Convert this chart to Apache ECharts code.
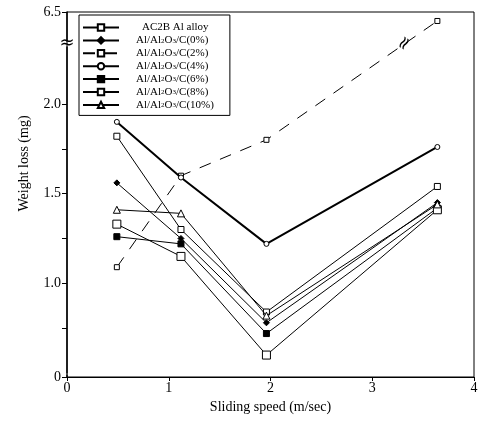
<!DOCTYPE html>
<html><head><meta charset="utf-8">
<script src="https://cdn.jsdelivr.net/npm/echarts@6/dist/echarts.min.js"></script>
<style>html,body{margin:0;padding:0;background:#fff}#c{width:484px;height:428px}</style>
</head><body><div id="c"></div>
<script>
const speeds = [0.49, 1.12, 1.96, 3.64];
const seriesNames = ['AC2B Al alloy','Al/Al2O3/C(0%)','Al/Al2O3/C(2%)','Al/Al2O3/C(4%)','Al/Al2O3/C(6%)','Al/Al2O3/C(8%)','Al/Al2O3/C(10%)'];
const ac2b = [1.82, 1.30, 0.84, 1.54];
const c0 = [1.56, 1.25, 0.78, 1.45];
const c2 = [1.09, 1.60, 1.80, 6.45];
const c4 = [1.90, 1.59, 1.22, 1.76];
const c6 = [1.26, 1.22, 0.72, 1.42];
const c8 = [1.33, 1.15, 0.60, 1.41];
const c10 = [1.41, 1.39, 0.82, 1.44];
const xTicks = [0, 1, 2, 3, 4];
const yLabels = [0, 1.0, 1.5, 2.0, 6.5];
const yMinorTicks = [0.75, 1.25, 1.75];

const FONT = 'Liberation Serif';
const pairs = arr => arr.map((v, i) => [speeds[i], v]);
const styles = [
  {symbol: 'rect', size: 6, fill: '#fff', width: 1, type: 'solid'},
  {symbol: 'diamond', size: 6, fill: '#000', width: 1, type: 'solid'},
  {symbol: 'rect', size: 5, fill: '#fff', width: 1, type: [12, 10]},
  {symbol: 'circle', size: 5, fill: '#fff', width: 2, type: 'solid'},
  {symbol: 'rect', size: 6, fill: '#000', width: 1, type: 'solid'},
  {symbol: 'rect', size: 8, fill: '#fff', width: 1, type: 'solid'},
  {symbol: 'triangle', size: 7, fill: '#fff', width: 1, type: 'solid'}
];
const allData = [ac2b, c0, c2, c4, c6, c8, c10];

const chart = echarts.init(document.getElementById('c'), null, {renderer: 'canvas'});
const option = {
  animation: false,
  backgroundColor: '#fff',
  grid: {left: 67, right: 10, top: 12, bottom: 51, show: true, borderColor: '#000', borderWidth: 1},
  legend: {
    orient: 'vertical', left: 79, top: 15,
    itemWidth: 36, itemHeight: 8, itemGap: 1.4,
    padding: [7, 16, 5, 3],
    borderColor: '#000', borderWidth: 1, backgroundColor: '#fff',
    textStyle: {fontFamily: FONT, fontSize: 11, color: '#000', lineHeight: 8, padding: [0, 0, 0, 12],
      rich: {
        s: {fontFamily: FONT, fontSize: 7, color: '#000', lineHeight: 8, verticalAlign: 'bottom', padding: [3, 0, 0, 0]},
        a: {fontFamily: FONT, fontSize: 11, color: '#000', lineHeight: 8, padding: [0, 0, 0, 6]}
      }},
    formatter: n => n.indexOf('Al2O3') >= 0 ? n.replace('Al2O3', 'Al{s|2}O{s|3}') : '{a|' + n + '}',
    data: seriesNames
  },
  xAxis: {
    type: 'value', min: 0, max: 4, interval: 1,
    axisLine: {onZero: false, lineStyle: {color: '#000', width: 1}},
    axisTick: {length: 4, lineStyle: {color: '#000'}, customValues: xTicks},
    axisLabel: {fontFamily: FONT, fontSize: 14, color: '#000', margin: 4, customValues: xTicks},
    splitLine: {show: false},
    name: 'Sliding speed (m/sec)', nameLocation: 'middle', nameGap: 20,
    nameTextStyle: {fontFamily: FONT, fontSize: 14, color: '#000'}
  },
  yAxis: {
    type: 'value', min: 0, max: 6.5,
    breaks: [
      {start: 0.01, end: 0.5, gap: '0.6%'},
      {start: 2.32, end: 6.34, gap: '1.6%'}
    ],
    breakArea: {show: false},
    axisLine: {onZero: false, lineStyle: {color: '#000', width: 1.5}},
    axisTick: {length: 5, lineStyle: {color: '#000'}, customValues: yLabels.concat(yMinorTicks)},
    axisLabel: {fontFamily: FONT, fontSize: 14, color: '#000', margin: 6, customValues: yLabels,
      formatter: v => v === 0 ? '0' : Number(v).toFixed(1)},
    splitLine: {show: false},
    name: 'Weight loss (mg)', nameLocation: 'middle', nameGap: 36,
    nameTextStyle: {fontFamily: FONT, fontSize: 14, color: '#000', padding: [0, 0, 0, 62]}
  },
  series: seriesNames.map((n, i) => ({
    name: n, type: 'line', data: pairs(allData[i]),
    symbol: styles[i].symbol, symbolSize: styles[i].size, showSymbol: true,
    lineStyle: {color: '#000', width: styles[i].width, type: styles[i].type},
    itemStyle: {color: styles[i].fill, borderColor: '#000', borderWidth: 1},
    z: 2 + i
  }))
};
chart.setOption(option);

// break marks
const yLo = chart.convertToPixel({yAxisIndex: 0}, 2.32);
const yHi = chart.convertToPixel({yAxisIndex: 0}, 6.34);
const yMid = (yLo + yHi) / 2;
const pA = chart.convertToPixel({xAxisIndex: 0, yAxisIndex: 0}, [speeds[2], c2[2]]);
const pB = chart.convertToPixel({xAxisIndex: 0, yAxisIndex: 0}, [speeds[3], c2[3]]);
const t = (yMid - pA[1]) / (pB[1] - pA[1]);
const xMid = pA[0] + t * (pB[0] - pA[0]);
const x0 = chart.convertToPixel({xAxisIndex: 0}, 0);
chart.setOption({graphic: [
  {type: 'text', x: x0, y: yMid, style: {text: '≈', fontSize: 18, fontFamily: 'DejaVu Sans', fill: '#000', align: 'center', verticalAlign: 'middle'}},
  {type: 'text', x: xMid, y: yMid, rotation: 1.0, style: {text: '≈', fontSize: 18, fontFamily: 'DejaVu Sans', fill: '#000', align: 'center', verticalAlign: 'middle'}}
]});
</script></body></html>
